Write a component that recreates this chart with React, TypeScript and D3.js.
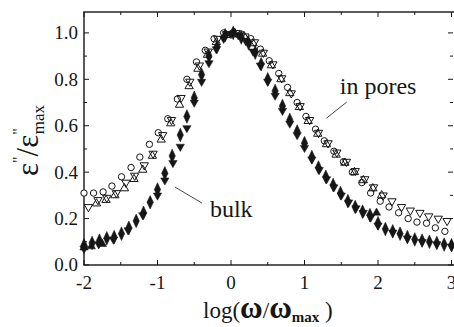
import * as d3 from "d3";

// in pores: open circles, open down/up triangles
const poresCircX = [-2.0, -1.87, -1.74, -1.62, -1.49, -1.36, -1.24, -1.11, -0.99, -0.86, -0.73, -0.6, -0.47, -0.35, -0.23, -0.1, 0.02, 0.14, 0.27, 0.4, 0.52, 0.65, 0.77, 0.9, 1.02, 1.15, 1.27, 1.4, 1.53, 1.65, 1.78, 1.9, 2.03, 2.15, 2.28, 2.41, 2.53, 2.66, 2.78, 2.91];
const poresCircV = [0.31, 0.31, 0.315, 0.34, 0.38, 0.42, 0.465, 0.52, 0.57, 0.63, 0.715, 0.8, 0.875, 0.925, 0.975, 1.0, 1.0, 0.995, 0.975, 0.93, 0.88, 0.825, 0.765, 0.7, 0.64, 0.585, 0.535, 0.49, 0.445, 0.4, 0.355, 0.31, 0.275, 0.25, 0.225, 0.2, 0.185, 0.18, 0.16, 0.145];

const poresDownX = [-1.94, -1.81, -1.69, -1.56, -1.43, -1.31, -1.18, -1.06, -0.93, -0.81, -0.68, -0.56, -0.43, -0.31, -0.18, -0.06, 0.07, 0.19, 0.32, 0.44, 0.57, 0.69, 0.82, 0.94, 1.07, 1.19, 1.32, 1.44, 1.57, 1.69, 1.82, 1.94, 2.07, 2.19, 2.32, 2.44, 2.57, 2.69, 2.82, 2.94];
const poresDownV = [0.25, 0.28, 0.29, 0.31, 0.355, 0.385, 0.43, 0.48, 0.56, 0.625, 0.72, 0.79, 0.86, 0.92, 0.975, 0.995, 1.0, 0.985, 0.96, 0.915, 0.865, 0.805, 0.74, 0.685, 0.625, 0.57, 0.525, 0.485, 0.445, 0.405, 0.37, 0.335, 0.3, 0.275, 0.25, 0.235, 0.225, 0.21, 0.2, 0.19];

const poresUpX = [-1.83, -1.7, -1.58, -1.45, -1.32, -1.2, -1.07, -0.95, -0.82, -0.7, -0.57, -0.45, -0.32, -0.2, -0.07, 0.05, 0.18, 0.3, 0.43, 0.55, 0.68, 0.8, 0.93, 1.05, 1.18, 1.3, 1.43, 1.55, 1.68, 1.8, 1.93, 2.05];
const poresUpV = [0.265, 0.28, 0.3, 0.33, 0.37, 0.41, 0.47, 0.54, 0.61, 0.69, 0.77, 0.845, 0.905, 0.96, 0.99, 1.0, 0.985, 0.955, 0.91, 0.86, 0.8, 0.74, 0.68, 0.62, 0.565, 0.52, 0.475, 0.44, 0.4, 0.365, 0.33, 0.3];

// bulk: filled diamonds, filled down/up triangles
const bulkDiaX = [-2.0, -1.89, -1.79, -1.69, -1.59, -1.49, -1.39, -1.29, -1.19, -1.1, -1.0, -0.9, -0.8, -0.69, -0.6, -0.5, -0.4, -0.3, -0.19, -0.08, 0.03, 0.14, 0.24, 0.33, 0.41, 0.5, 0.6, 0.7, 0.8, 0.9, 1.0, 1.1, 1.19, 1.29, 1.39, 1.49, 1.59, 1.69, 1.79, 1.89, 2.0, 2.1, 2.2, 2.3, 2.4, 2.5, 2.6, 2.7, 2.8, 2.9, 3.0];
const bulkDiaV = [0.085, 0.095, 0.105, 0.115, 0.12, 0.135, 0.16, 0.19, 0.225, 0.27, 0.325, 0.395, 0.47, 0.56, 0.64, 0.72, 0.82, 0.9, 0.94, 0.99, 1.0, 0.98, 0.955, 0.915, 0.865, 0.8, 0.75, 0.685, 0.625, 0.575, 0.525, 0.465, 0.42, 0.38, 0.345, 0.31, 0.275, 0.25, 0.23, 0.215, 0.18, 0.155, 0.145, 0.135, 0.12, 0.11, 0.105, 0.1, 0.095, 0.088, 0.085];

const bulkDownX = [-2.0, -1.8, -1.6, -1.4, -1.2, -1.0, -0.9, -0.79, -0.69, -0.6, -0.5, -0.4, -0.3, -0.2, -0.1, 0.0, 0.1, 0.2, 0.3, 0.4, 0.5, 0.6, 0.7, 0.8, 0.9, 1.0, 1.1, 1.2, 1.3, 1.4, 1.5, 1.6, 1.7, 1.8, 1.9, 2.0, 2.2, 2.4, 2.6, 2.8, 3.0];
const bulkDownV = [0.07, 0.09, 0.11, 0.15, 0.215, 0.3, 0.365, 0.44, 0.51, 0.59, 0.7, 0.79, 0.87, 0.93, 0.975, 0.995, 0.99, 0.965, 0.92, 0.86, 0.79, 0.73, 0.665, 0.61, 0.56, 0.505, 0.455, 0.41, 0.37, 0.335, 0.3, 0.27, 0.245, 0.225, 0.205, 0.17, 0.14, 0.115, 0.1, 0.09, 0.08];

const bulkUpX = [-2.0, -1.9, -1.75, 1.98];
const bulkUpV = [0.075, 0.08, 0.09, 0.225];

const xTicks = [-2, -1, 0, 1, 2, 3];
const yTicks = [0.0, 0.2, 0.4, 0.6, 0.8, 1.0];

const W = 454;
const H = 327;
const ink = "#161616";
const serif = "Liberation Serif";

const x = d3.scaleLinear().domain([-2, 3]).range([84, 451.5]);
const y = d3.scaleLinear().domain([0, 1.09]).range([265, 12]);

const triUp = d3.symbol().type(d3.symbolTriangle).size(30)()!;
const diamond = d3.symbol().type(d3.symbolDiamond).size(34)()!;

function Marks({
  xs,
  vs,
  kind,
}: {
  xs: number[];
  vs: number[];
  kind: "circle" | "up" | "down" | "fdia" | "fdown" | "fup";
}) {
  return (
    <g>
      {xs.map((xv, i) => {
        const cx = x(xv);
        const cy = y(vs[i]);
        if (kind === "circle")
          return <circle key={i} cx={cx} cy={cy} r={3.2} fill="white" stroke={ink} strokeWidth={1} />;
        const filled = kind.startsWith("f");
        const d = kind === "fdia" ? diamond : triUp;
        const rot = kind === "down" || kind === "fdown" ? 180 : 0;
        const sy = kind === "fdia" ? 1.25 : 1;
        return (
          <path
            key={i}
            d={d}
            transform={`translate(${cx},${cy}) rotate(${rot}) scale(1,${sy})`}
            fill={filled ? ink : "none"}
            stroke={ink}
            strokeWidth={filled ? 0.5 : 1}
          />
        );
      })}
    </g>
  );
}

export default function App() {
  const x0 = x(-2);
  const x1 = 456;
  const y0 = y(0);
  const y1 = y.range()[1];
  const xMinor = d3.range(-2, 3.01, 0.5);
  const yMinor = d3.range(0, 1.051, 0.1);

  return (
    <svg
      width={W}
      height={H}
      style={{ position: "absolute", left: 0, top: 0, background: "white", fontFamily: serif }}
    >
      {/* frame */}
      <rect x={x0} y={y1} width={x1 - x0} height={y0 - y1} fill="none" stroke={ink} strokeWidth={1.4} />

      {/* ticks */}
      {xMinor.map((t) => {
        const major = Math.abs(t - Math.round(t)) < 1e-6;
        const len = major ? 5 : 3;
        return (
          <g key={"xt" + t} stroke={ink} strokeWidth={1}>
            <line x1={x(t)} x2={x(t)} y1={y0} y2={y0 - len} />
            <line x1={x(t)} x2={x(t)} y1={y1} y2={y1 + len} />
          </g>
        );
      })}
      {yMinor.map((t, i) => {
        const major = i % 2 === 0;
        const len = major ? 5 : 3;
        return (
          <g key={"yt" + i} stroke={ink} strokeWidth={1}>
            <line x1={x0} x2={x0 + len} y1={y(t)} y2={y(t)} />
            <line x1={x1 - 3} x2={x1 - 3 - len} y1={y(t)} y2={y(t)} />
          </g>
        );
      })}

      {/* tick labels */}
      {xTicks.map((t) => (
        <text key={"xl" + t} x={x(t)} y={289} textAnchor="middle" fontSize={19} fill={ink} style={{ fontFamily: serif }}>
          {t < 0 ? "-" + Math.abs(t) : String(t)}
        </text>
      ))}
      {yTicks.map((t) => (
        <text key={"yl" + t} x={78} y={y(t)} dy="0.34em" textAnchor="end" fontSize={19} fill={ink} style={{ fontFamily: serif }}>
          {t.toFixed(1)}
        </text>
      ))}

      {/* data */}
      <Marks xs={poresCircX} vs={poresCircV} kind="circle" />
      <Marks xs={poresDownX} vs={poresDownV} kind="down" />
      <Marks xs={poresUpX} vs={poresUpV} kind="up" />
      <Marks xs={bulkDiaX} vs={bulkDiaV} kind="fdia" />
      <Marks xs={bulkDownX} vs={bulkDownV} kind="fdown" />
      <Marks xs={bulkUpX} vs={bulkUpV} kind="fup" />

      {/* annotations */}
      <line x1={x(1.3)} y1={y(0.633)} x2={x(1.575)} y2={y(0.702)} stroke={ink} strokeWidth={0.8} />
      <text x={x(1.48)} y={y(0.737)} fontSize={24} fill={ink} style={{ fontFamily: serif }}>in pores</text>
      <line x1={x(-0.763)} y1={y(0.336)} x2={x(-0.396)} y2={y(0.267)} stroke={ink} strokeWidth={0.8} />
      <text x={x(-0.287)} y={y(0.207)} fontSize={24} fill={ink} style={{ fontFamily: serif }}>bulk</text>

      {/* axis titles */}
      <text x={203} y={318} fontSize={23} fill={ink} style={{ fontFamily: serif }}>
        log(
        <tspan fontWeight="bold" fontSize={31}>ω</tspan>
        /
        <tspan fontWeight="bold" fontSize={31}>ω</tspan>
        <tspan fontWeight="bold" fontSize={15} dy={4}>max</tspan>
        <tspan dy={-4}> )</tspan>
      </text>
      <text transform="translate(38,176) rotate(-90)" fontSize={31} fill={ink} style={{ fontFamily: serif }}>
        ε
        <tspan fontSize={16} dy={-14}>"</tspan>
        <tspan dy={14}>/ε</tspan>
        <tspan fontSize={16} dy={-14}>"</tspan>
        <tspan fontSize={17} dx={-6} dy={20}>max</tspan>
      </text>
    </svg>
  );
}
